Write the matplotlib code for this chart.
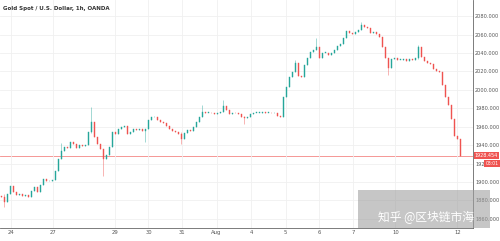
import matplotlib
matplotlib.use("Agg")
import matplotlib.pyplot as plt
from matplotlib.patches import Rectangle

# ==========================================
# DATA (hourly closes)
# ==========================================
closes = [
    1883.6, 1878.2, 1886.8, 1895.5, 1889.0, 1885.7, 1886.8, 1884.7, 1885.7, 1883.6,
    1890.1, 1894.4, 1889.0, 1896.6, 1903.0, 1900.9, 1900.9, 1902.0, 1911.7, 1924.7,
    1933.3, 1937.6, 1936.5, 1943.0, 1940.9, 1936.5, 1939.8, 1938.7, 1939.8, 1953.8,
    1965.7, 1948.4, 1940.9, 1935.5, 1924.7, 1929.0, 1937.6, 1953.8, 1951.7, 1957.1,
    1959.3, 1960.3, 1951.7, 1953.8, 1957.1, 1956.0, 1957.1, 1954.9, 1957.1, 1966.8,
    1970.1, 1971.1, 1966.8, 1965.7, 1963.6, 1960.3, 1957.1, 1954.9, 1953.8, 1951.7,
    1946.3, 1952.8, 1956.0, 1954.9, 1959.3, 1965.7, 1971.1, 1976.5, 1975.4, 1975.4,
    1974.4, 1973.3, 1974.4, 1976.5, 1983.0, 1978.7, 1973.3, 1975.4, 1974.4, 1973.3,
    1971.1, 1969.0, 1970.1, 1973.3, 1975.4, 1975.4, 1975.4, 1976.5, 1975.4, 1975.4,
    1974.4, 1974.4, 1972.2, 1971.1, 1992.8, 2003.6, 2014.4, 2019.8, 2029.5, 2015.5,
    2014.4, 2027.4, 2034.9, 2041.4, 2043.6, 2046.8, 2034.9, 2040.3, 2040.3, 2038.2,
    2040.3, 2043.6, 2047.9, 2050.1, 2056.5, 2064.1, 2061.9, 2060.9, 2063.0, 2065.2,
    2070.6, 2068.4, 2067.4, 2061.9, 2063.0, 2060.9, 2057.6, 2046.8, 2034.9, 2024.1,
    2033.8, 2034.9, 2032.7, 2032.7, 2033.8, 2031.6, 2033.8, 2032.7, 2034.9, 2046.8,
    2036.0, 2031.6, 2029.4, 2028.4, 2022.9, 2020.8, 2019.7, 2005.7, 1992.8, 1984.1,
    1967.9, 1949.5, 1946.3, 1928.454,
]
first_open = 1885.0

# notable wicks: candle index -> (high, low)
wicks = {
    1: (1887.0, 1873.0), 20: (1942.0, 1925.0), 30: (1980.9, 1953.0),
    34: (1936.0, 1906.3), 48: (1958.0, 1943.0), 60: (1954.0, 1940.9),
    67: (1984.1, 1971.0), 74: (1989.5, 1976.0), 81: (1972.0, 1962.5),
    98: (2032.8, 2019.0), 105: (2056.5, 2043.0), 120: (2073.8, 2065.0),
    129: (2035.0, 2016.5), 139: (2049.0, 2034.0),
}

price_ticks = [1860, 1880, 1900, 1920, 1940, 1960, 1980, 2000, 2020, 2040, 2060, 2080]
date_labels = ["24", "27", "29", "30", "31", "Aug", "4", "5", "6", "7", "10", "12"]
date_pos = [3.3, 17.3, 37.7, 49.0, 60.3, 71.7, 83.3, 94.7, 106.0, 117.3, 131.3, 152.0]

last_price = closes[-1]
countdown = "03:01"
UP = "#26a69a"
DOWN = "#ef5350"

# ==========================================
# PLOT
# ==========================================
fig = plt.figure(figsize=(5.0, 2.41), dpi=100)
ax = fig.add_axes([0.0, 0.054, 0.946, 0.946])

opens = [first_open] + closes[:-1]
for i, (o, c) in enumerate(zip(opens, closes)):
    color = UP if c >= o else DOWN
    hi, lo = wicks.get(i, (max(o, c), min(o, c)))
    ax.vlines(i, lo, hi, color=color, linewidth=0.5, alpha=0.6, zorder=2)
    ax.add_patch(Rectangle((i - 0.25, min(o, c)), 0.5, max(abs(c - o), 0.4),
                           facecolor=color, edgecolor=color, linewidth=0.3, zorder=3))

ax.axhline(last_price, color=DOWN, linewidth=0.6, alpha=0.7, zorder=1)

ax.set_xlim(-0.5, 157.2)
ax.set_ylim(1850.1, 2097.6)
ax.yaxis.tick_right()
ax.set_yticks(price_ticks)
ax.set_yticklabels([f"{p:.3f}" for p in price_ticks], fontsize=3.6, color="#555555")
ax.set_xticks(date_pos)
ax.set_xticklabels(date_labels, fontsize=3.8, color="#555555")
ax.tick_params(length=0, pad=1.5)
ax.grid(True, color="#f0f0f0", linewidth=0.6)
for side in ["top", "left"]:
    ax.spines[side].set_visible(False)
ax.spines["right"].set_color("#666666")
ax.spines["bottom"].set_color("#666666")
ax.spines["right"].set_linewidth(0.6)
ax.spines["bottom"].set_linewidth(0.6)

ax.text(0.006, 0.975, "Gold Spot / U.S. Dollar, 1h, OANDA", transform=ax.transAxes,
        fontsize=4.0, fontweight="bold", color="#333333", va="top")

# last price tag and bar countdown (the countdown covers part of the 1920 label)
ax.text(1.004, last_price, f"{last_price:.3f}", transform=ax.get_yaxis_transform(),
        fontsize=3.5, color="white", va="center", ha="left", zorder=10,
        bbox=dict(boxstyle="square,pad=0.2", facecolor=DOWN, edgecolor="none"),
        clip_on=False)
ax.text(1.026, 1920, countdown, transform=ax.get_yaxis_transform(),
        fontsize=3.3, color="white", va="center", ha="left", zorder=10,
        bbox=dict(boxstyle="square,pad=0.3", facecolor=DOWN, edgecolor="none"),
        clip_on=False)

# watermark
fig.patches.append(Rectangle((358 / 500, 13 / 241), 132 / 500, 38 / 241,
                             transform=fig.transFigure, facecolor="#a0a0a0",
                             alpha=0.6, edgecolor="none", zorder=5))
fig.text(426 / 500, 24 / 241, "知乎 @区块链市海", fontsize=8.5, color="white",
         ha="center", va="center", zorder=6,
         family=["Noto Sans CJK SC", "DejaVu Sans"])

fig.savefig("out.png", dpi=100, facecolor="white")
